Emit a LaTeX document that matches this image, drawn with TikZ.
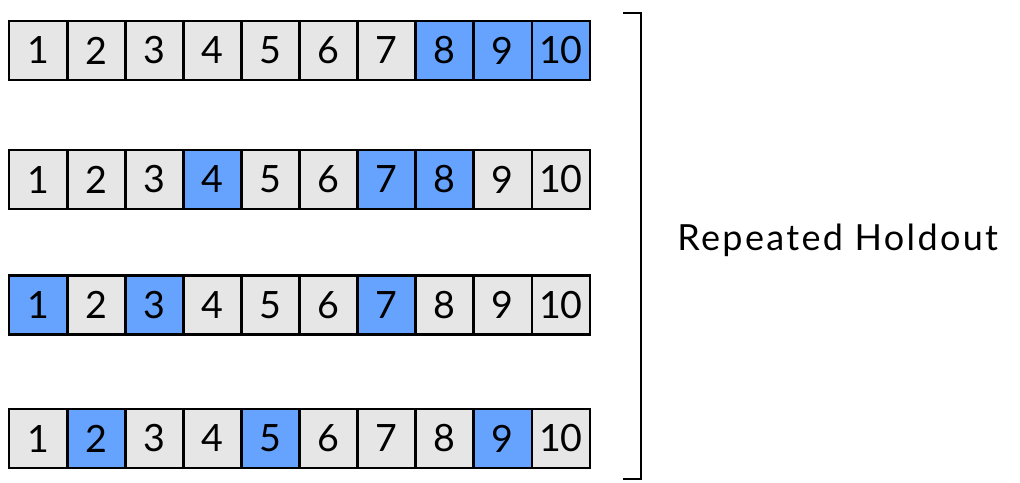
\documentclass[tikz,border=0pt]{standalone}
\usepackage{fontspec}
\setmainfont{Lato}
\usepackage{xstring}
\definecolor{holdblue}{RGB}{102,163,255}
\definecolor{cellgray}{RGB}{230,230,230}
\usetikzlibrary{positioning}
\tikzset{
  cell/.style={draw, line width=1.4pt, fill=cellgray, minimum width=29.05pt,
    minimum height=29.5pt, inner sep=0pt, outer sep=0pt, font=\fontsize{18.8}{20}\selectfont},
  brace/.style={line width=1.1pt}
}

\begin{document}
\begin{tikzpicture}[x=0.5pt,y=-0.5pt]
\useasboundingbox (0,0) rectangle (1020,482);
% four splits, highlighted cells are the held-out ones
\foreach \row/\ypos/\picks in {1/50.5/{,8,9,10,}, 2/179.5/{,4,7,8,}, 3/305/{,1,3,7,}, 4/438.5/{,2,5,9,}} {
  \foreach \i in {1,...,10} {
    \IfSubStr{\picks}{,\i,}{\def\cellfill{holdblue}}{\def\cellfill{cellgray}}
    \node[cell, fill=\cellfill] (r\row c\i) at ({38.05+58.1*(\i-1)}, \ypos) {\i};
  }
}

% Bracket
\coordinate (btop) at (641,13);
\coordinate (bbot) at (641,479);
\coordinate (btopend) at (623,13);
\coordinate (bbotend) at (623,479);
\draw[brace] (btopend) -- (btop) -- (bbot) -- (bbotend);

% Label
\node[anchor=base west, inner sep=0pt, font=\fontsize{18}{20}\selectfont\addfontfeatures{LetterSpace=6.5}] (holdout) at (677,250) {Repeated Holdout};
\end{tikzpicture}
\end{document}
